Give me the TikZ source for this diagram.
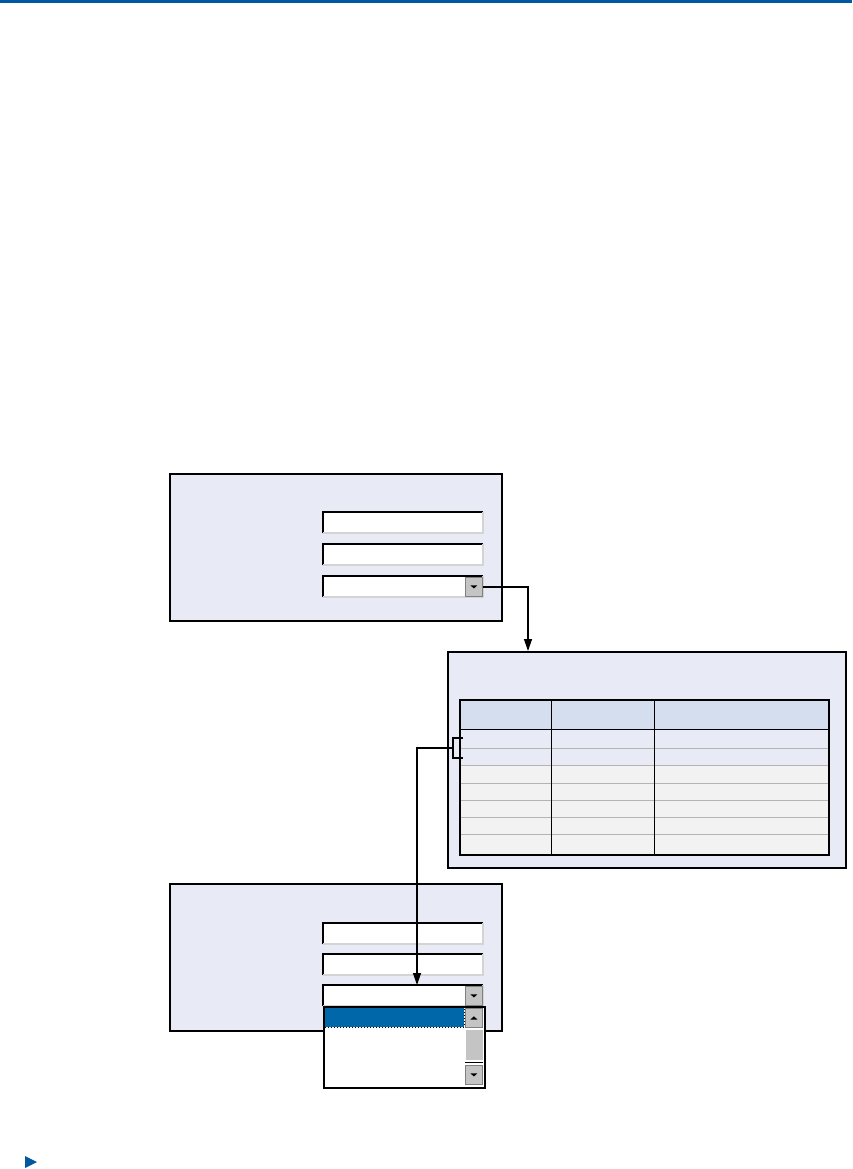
\documentclass[tikz,border=0pt]{standalone}
\usetikzlibrary{arrows.meta}

\definecolor{winbg}{HTML}{E8EBF5}
\definecolor{headbg}{HTML}{D5DEEE}
\definecolor{rowgrey}{HTML}{F2F2F2}
\definecolor{ruleline}{HTML}{B4B4B4}
\definecolor{fieldedge}{HTML}{D4D4D4}
\definecolor{btngrey}{HTML}{C4C4C4}
\definecolor{selblue}{HTML}{0068A8}
\definecolor{barblue}{HTML}{0058A0}

\tikzset{
  win/.style={draw, fill=winbg, line width=2pt, anchor=north west, inner sep=0pt},
  field/.style={fill=white, anchor=north west, inner sep=0pt,
    minimum width=160pt, minimum height=21pt},
  btn/.style={fill=btngrey, draw=gray, line width=0.8pt, anchor=north west,
    inner sep=0pt, minimum width=17pt, minimum height=19pt,
    path picture={\fill[black] ([yshift=#1]path picture bounding box.center)
      ++(-3.5pt,0pt) -- ++(7pt,0pt) -- ++(-3.5pt,{-2*#1}) -- cycle;}},
  btn/.default=1.6pt,
  link/.style={line width=1.3pt, -{Triangle[length=12pt,width=8pt]}},
}

\begin{document}
\begin{tikzpicture}[x=1pt,y=-1pt]
\useasboundingbox (0,0) rectangle (852,1169);
\fill[barblue] (0,0) rectangle (852,3);

% first form
\node[win, minimum width=332pt, minimum height=147pt] (form1) at (169,473) {};
\node[field] (f1a) at (323,512) {};
\node[field] (f1b) at (323,544) {};
\node[field] (f1c) at (323,576) {};

% list window with table
\node[win, minimum width=398pt, minimum height=216pt] (listwin) at (447,651) {};
\fill[headbg] (460,700) rectangle (829,729);
\fill[winbg] (460,729) rectangle (829,765);
\fill[rowgrey] (460,765) rectangle (829,855);
\foreach \y in {748,765,783,800,817,834}
  \draw[ruleline, line width=1pt] (460,\y) -- (829,\y);
\draw[line width=1pt] (460,729) -- (829,729);
\foreach \x in {551,654}
  \draw[line width=1pt] (\x,700) -- (\x,855);
\draw[line width=2pt] (460,700) rectangle (829,855);

% second form
\node[win, minimum width=332pt, minimum height=147pt] (form2) at (169,883) {};
\node[field] (f2a) at (323,923) {};
\node[field] (f2b) at (323,954) {};
\node[field] (f2c) at (323,985) {};

\foreach \f in {f1a,f1b,f1c,f2a,f2b,f2c} {
  \draw[line width=2pt] (\f.south west) |- (\f.north east);
  \draw[fieldedge, line width=2pt] (\f.north east) |- (\f.south west);
}
\node[btn] (dd1) at (465,577) {};
\node[btn] (dd2) at (465,986) {};

% opened drop-down
\node[draw, fill=white, line width=2pt, anchor=north west, inner sep=0pt,
  minimum width=161pt, minimum height=81pt] (droplist) at (323,1006) {};
\fill[selblue] (325,1008) rectangle (464,1027);
\draw[dotted, line width=1pt] (325,1027) -- (464,1027) -- (464,1008);
\node[btn=-1.6pt] (sup) at (465,1008) {};
\fill[btngrey] (465,1029) rectangle (483,1060);
\draw[white, line width=1pt] (465.5,1060) -- (465.5,1029.5) -- (483,1029.5);
\draw[line width=1pt] (465,1062) -- (483,1062);
\node[btn] (sdown) at (465,1065) {};

% selection bracket
\draw[line width=1.2pt] (463,738) -- (453,738) -- (453,758) -- (463,758);
\coordinate (brk) at (453,748);

% connectors
\coordinate (tblin) at (528,651);
\coordinate (pick) at (417,985);
\draw[link] (dd1.east) -| (tblin);
\draw[link] (brk) -| (pick);

\fill[barblue] (25,1156) -- (37,1162) -- (25,1168) -- cycle;
\end{tikzpicture}
\end{document}
